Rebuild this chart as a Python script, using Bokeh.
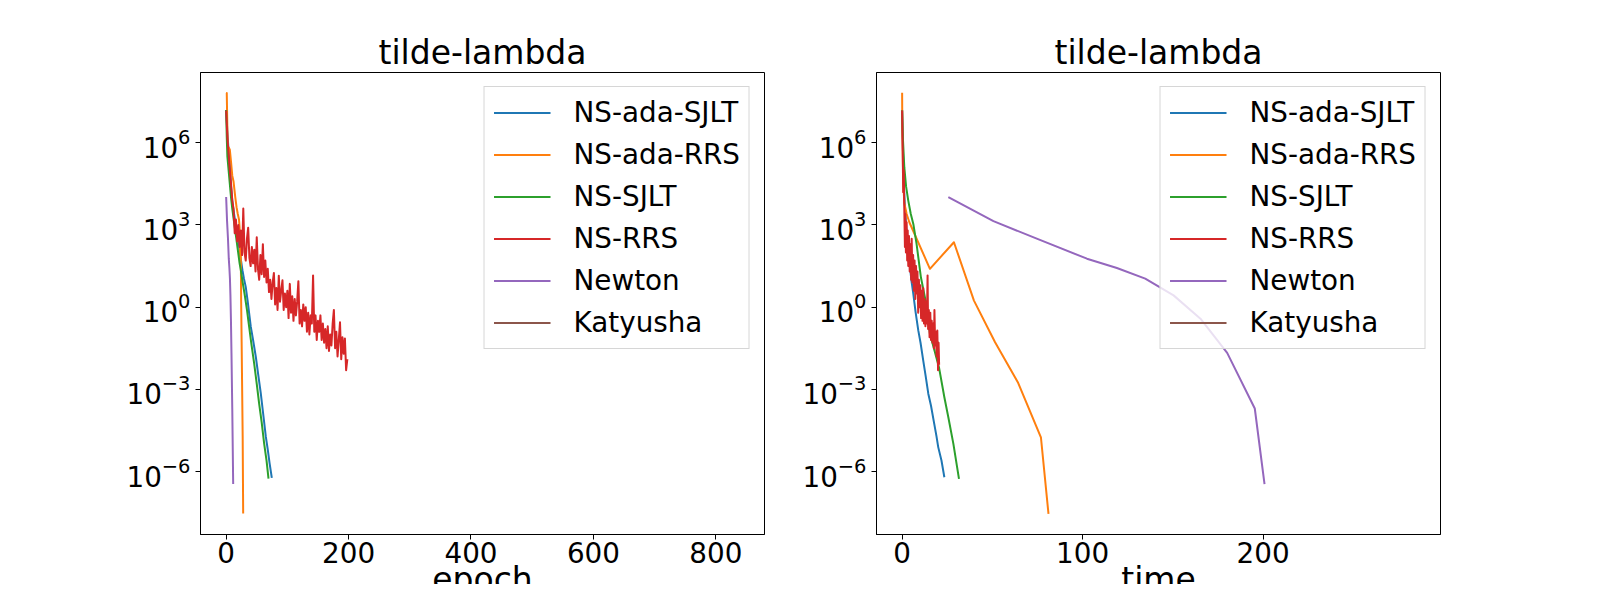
from bokeh.plotting import figure
from bokeh.layouts import row
from bokeh.models import Range1d, FixedTicker, LogTickFormatter, Title
from bokeh.embed import file_html
from bokeh.resources import INLINE

nan = float("nan")

methods = ["NS-ada-SJLT", "NS-ada-RRS", "NS-SJLT", "NS-RRS", "Newton", "Katyusha"]
colors = ["#1f77b4", "#ff7f0e", "#2ca02c", "#d62728", "#9467bd", "#8c564b"]
panel_title = "tilde-lambda"
epoch_ticks = [0, 200, 400, 600, 800]
time_ticks = [0, 100, 200]
y_ticks = [1e-6, 1e-3, 1e0, 1e3, 1e6]

# ---------------- epoch panel (values are log10 of the error) ----------------
ep_ada_sjlt_x = [0, 2, 4, 6, 8, 10.4, 13, 16, 20, 23, 26.7, 29, 32, 35, 37.6, 40.3, 44, 48.5,
                 52, 56.6, 60, 64.8, 68, 71, 74.6]
ep_ada_sjlt_log = [7.2, 6.4, 5.7, 5.17, 4.4, 3.79, 3.4, 2.95, 2.45, 1.9, 1.34, 1.05, 0.74, 0.25,
                   -0.23, -0.72, -1.2, -1.82, -2.4, -3.15, -3.8, -4.73, -5.2, -5.7, -6.23]

ep_ada_rrs_x = [0, 1, 2, 2.5, 4, 6, 8, 10, 12, 13.5, 15, 17, 19, 21, 22, 23, 23.8, 24.5, 25.3,
                26, 27, 27.8]
ep_ada_rrs_log = [7.82, 7.82, 6.5, 5.84, 5.84, 5.75, 5.3, 4.8, 4.6, 4.3, 4.0, 3.65, 3.4, 3.2,
                  2.9, 1.76, 2.4, 0.25, -1.27, -2.7, -4.73, -7.53]

ep_sjlt_x = [0, 1, 2, 4, 6, 8, 10, 13, 16, 19, 22, 24, 27, 30, 34, 37.6, 41, 45.8, 50, 53.9,
             58, 62.1, 66, 69.2]
ep_sjlt_log = [7.2, 6.2, 5.5, 5.0, 4.5, 4.0, 3.6, 3.1, 2.6, 2.1, 1.6, 1.34, 0.9, 0.5, -0.1,
               -0.72, -1.3, -2.06, -2.8, -3.52, -4.2, -4.98, -5.6, -6.26]

ep_rrs_x = list(range(0, 200, 2))
ep_rrs_log = [7.18, 6.2, 5.6, 5.0, 4.5, 3.9, 3.6, 2.7, 3.2, 2.4,
              3.0, 2.2, 2.8, 1.9, 3.6, 2.0, 1.7, 2.5, 2.9, 1.8,
              1.5, 2.2, 1.6, 2.1, 1.3, 2.55, 1.4, 1.0, 1.9, 1.2,
              2.3, 1.1, 1.7, 0.9, 1.4, 0.55, 1.0, 0.3, 0.9, 1.25,
              0.1, 0.7, -0.1, 1.15, 0.2, 0.6, 0.98, -0.1, 0.5, 0.0,
              0.6, -0.4, 0.85, -0.2, 0.4, -0.5, 0.3, -0.3, 0.2, 0.95,
              -0.6, -0.1, -0.7, 0.1, -0.5, 0.0, -0.9, -0.2, -1.0, -0.3,
              -0.6, 1.16, -0.9, -0.3, -1.2, -0.5, -0.9, -0.3, -1.2, -0.6,
              -1.3, -0.8, -1.5, -0.7, -1.6, -1.0, -1.4, -0.6, -0.1, -1.5,
              -0.9, -1.8, -1.2, -0.55, -1.9, -1.1, -1.7, -1.14, -2.3, -1.9]

ep_newton_x = [0, 1.5, 3, 4.3, 5.3, 6.2, 7.0, 7.8, 8.7, 10, 11.5]
ep_newton_log = [4.02, 3.14, 2.50, 1.77, 1.43, 1.04, 0.43, -0.42, -1.67, -3.70, -6.46]

# Katyusha: no finite value is visible in the reference
ep_katyusha_x = [0, 838]
ep_katyusha_log = [nan, nan]

# ---------------- time panel (values are log10 of the error) ----------------
tm_ada_sjlt_x = [0, 0.5, 1.0, 1.55, 2.3, 3.2, 4.33, 5.2, 6.17, 7.5, 8.95, 10.2, 11.7, 13, 14.5,
                 16, 17.8, 19, 20, 21.8, 23.4]
tm_ada_sjlt_log = [7.2, 5.6, 4.4, 3.65, 2.9, 2.2, 1.46, 0.95, 0.49, -0.2, -0.85, -1.3, -1.95,
                   -2.5, -3.16, -3.6, -4.26, -4.7, -5.11, -5.6, -6.21]

tm_ada_rrs_x = [0, 0.1, 0.3, 0.6, 1.2, 2.5, 4.0, 15.4, 28.7, 39.8, 51.5, 64.1, 76.9, 81.1]
tm_ada_rrs_log = [7.83, 6.5, 5.8, 4.6, 3.8, 3.4, 3.1, 1.4, 2.37, 0.24, -1.28, -2.74, -4.75, -7.55]

tm_sjlt_x = [0, 0.4, 1.2, 2.2, 3.4, 4.8, 6.2, 8.0, 10.4, 13.0, 15.4, 18, 20.4, 23.4, 25.6,
             28.4, 31.5]
tm_sjlt_log = [7.18, 6.2, 5.11, 4.4, 3.89, 3.4, 3.04, 2.31, 1.09, 0.24, -0.97, -1.6, -2.19,
               -3.29, -4.02, -4.99, -6.27]

tm_rrs_x = [0, 0.3, 0.6, 0.9, 1.2, 1.55, 1.8, 2.1, 2.5, 2.8, 3.1, 3.4, 3.8, 4.2, 4.6, 5.0,
            5.3, 5.7, 6.1, 6.5, 6.9, 7.3, 7.7, 8.1, 8.5, 8.9, 9.3, 9.7, 10.1, 10.5, 10.9,
            11.3, 11.7, 12.1, 12.5, 12.9, 13.3, 13.7, 14.1, 14.4, 14.8, 15.2, 15.6, 16.0,
            16.4, 16.8, 17.2, 17.6, 17.9, 18.3, 18.7, 19.1, 19.5, 19.9, 20.2, 20.5]
tm_rrs_log = [7.18, 5.8, 4.2, 5.0, 3.6, 2.2, 3.4, 2.0, 3.1, 1.7, 2.8, 1.5, 2.6, 1.3, 2.3, 1.0,
              2.5, 0.9, 1.9, 0.6, 1.7, 0.3, 1.5, 0.5, 1.3, -0.2, 1.0, 0.0, 0.8, -0.4, 0.6,
              -0.5, 0.7, -0.6, 0.3, -0.7, 0.2, -0.6, 1.16, -0.8, -0.1, -1.1, -0.2, -1.2,
              -0.5, -1.3, -0.6, -1.5, -0.1, -1.4, -0.9, -1.8, -0.85, -2.3, -1.3, -2.1]

tm_newton_x = [25.6, 50.6, 74.6, 102.4, 119.0, 134.7, 150.4, 165.3, 180.1, 195.4, 200.8]
tm_newton_log = [4.02, 3.14, 2.50, 1.77, 1.43, 1.04, 0.43, -0.42, -1.67, -3.70, -6.46]

tm_katyusha_x = [0, 284]
tm_katyusha_log = [nan, nan]

epoch_series = [(ep_ada_sjlt_x, ep_ada_sjlt_log), (ep_ada_rrs_x, ep_ada_rrs_log),
                (ep_sjlt_x, ep_sjlt_log), (ep_rrs_x, ep_rrs_log),
                (ep_newton_x, ep_newton_log), (ep_katyusha_x, ep_katyusha_log)]
time_series = [(tm_ada_sjlt_x, tm_ada_sjlt_log), (tm_ada_rrs_x, tm_ada_rrs_log),
               (tm_sjlt_x, tm_sjlt_log), (tm_rrs_x, tm_rrs_log),
               (tm_newton_x, tm_newton_log), (tm_katyusha_x, tm_katyusha_log)]

FONT = "DejaVu Sans"


def make_panel(series, x_range, xticks, xlabel, border_left, border_right, width):
    p = figure(width=width, height=584, x_range=Range1d(*x_range),
               y_range=Range1d(10 ** -8.30, 10 ** 8.567), y_axis_type="log",
               output_backend="svg", toolbar_location=None,
               min_border_left=border_left, min_border_right=border_right,
               min_border_top=72, min_border_bottom=50)
    p.background_fill_color = "white"
    p.border_fill_color = "white"
    p.outline_line_color = "black"
    p.outline_line_width = 1
    p.outline_line_alpha = 1
    p.xgrid.visible = False
    p.ygrid.visible = False

    for (xs, logs), name, col in zip(series, methods, colors):
        ys = [10 ** v for v in logs]
        p.line(xs, ys, line_color=col, line_width=2, line_join="round", legend_label=name)

    p.title.text = panel_title
    p.title.align = "center"
    p.title.vertical_align = "middle"
    p.title.text_font = FONT
    p.title.text_font_size = "33px"
    p.title.text_font_style = "normal"
    p.title.text_color = "black"
    p.title.standoff = -1

    p.xaxis.ticker = FixedTicker(ticks=xticks, minor_ticks=[])
    p.yaxis.ticker = FixedTicker(ticks=y_ticks, minor_ticks=[])
    p.yaxis.formatter = LogTickFormatter()
    for ax in (p.xaxis, p.yaxis):
        ax.axis_line_color = "black"
        ax.axis_line_width = 1
        ax.major_tick_line_color = "black"
        ax.major_tick_line_width = 1
        ax.major_tick_out = 5
        ax.major_tick_in = 0
        ax.minor_tick_line_color = None
        ax.major_label_text_font = FONT
        ax.major_label_text_font_size = "27.8px"
        ax.major_label_text_color = "black"
    p.xaxis.major_label_standoff = 2
    p.yaxis.major_label_standoff = 5
    # tiny spacer below the tick labels, so that the axis title sits where the reference has it
    p.xaxis.axis_label = " "
    p.xaxis.axis_label_text_font_size = "1px"
    p.xaxis.axis_label_standoff = 9

    # x-axis title (drawn from a side panel; it runs past the bottom edge as in the reference)
    p.add_layout(Title(text=xlabel, align="center", vertical_align="middle", standoff=-40.4,
                       text_font=FONT, text_font_size="33px", text_font_style="normal",
                       text_color="black"), "below")

    lg = p.legend[0]
    lg.location = "top_right"
    lg.margin = 14
    lg.padding = 9
    lg.spacing = 9
    lg.glyph_width = 57
    lg.glyph_height = 33
    lg.label_height = 33
    lg.label_standoff = 23
    lg.label_text_font = FONT
    lg.label_text_font_size = "27.8px"
    lg.label_text_color = "black"
    lg.border_line_color = "#cccccc"
    lg.border_line_alpha = 0.8
    lg.border_line_width = 1
    lg.background_fill_color = "white"
    lg.background_fill_alpha = 0.8
    return p


p1 = make_panel(epoch_series, (-41.9, 879.5), epoch_ticks, "epoch", 200, 32, 796)
p2 = make_panel(time_series, (-14.2, 298.3), time_ticks, "time", 80, 144, 788)

layout = row(p1, p2)
open("out.html", "w").write(file_html(layout, INLINE))
